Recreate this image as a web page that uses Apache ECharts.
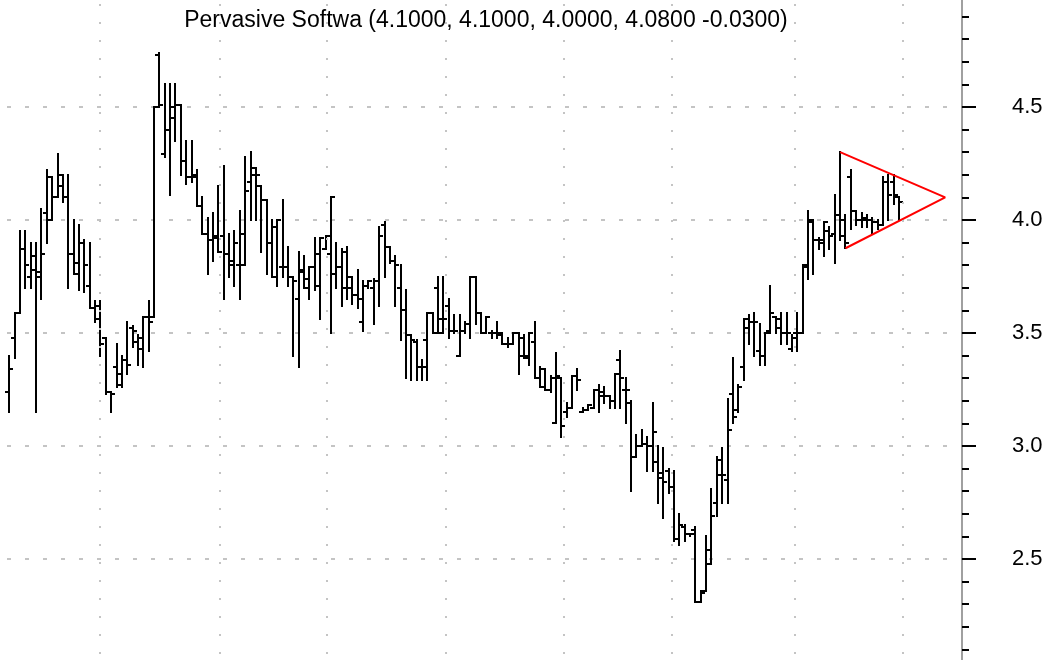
<!DOCTYPE html>
<html>
<head>
<meta charset="utf-8">
<title>Pervasive Softwa</title>
<script src="https://cdn.jsdelivr.net/npm/echarts@6/dist/echarts.min.js"></script>
<style>
  html, body { margin: 0; padding: 0; background: #fff; }
  #chart { width: 1061px; height: 660px; }
</style>
</head>
<body>
<div id="chart"></div>
<script>
const stockName = 'Pervasive Softwa'

// daily OHLC, oldest first
const opens = [
  3.24,3.48,3.59,3.87,3.75,3.78,3.77,4.03,4.00,4.10,
  4.20,4.10,3.85,3.76,3.90,3.71,3.61,3.56,3.48,3.24,
  3.35,3.32,3.38,3.52,3.46,3.43,3.57,3.57,4.73,4.29,
  4.40,4.50,4.51,4.26,4.19,4.19,4.06,3.94,3.91,3.92,
  3.93,3.85,3.82,3.80,3.94,4.17,4.23,4.15,4.09,3.90,
  3.75,3.79,3.79,3.75,3.65,3.77,3.70,3.79,3.85,3.87,
  3.85,3.76,3.79,3.70,3.70,3.67,3.55,3.71,3.70,3.73,
  3.98,3.88,3.82,3.70,3.60,3.49,3.46,3.35,3.47,3.59,
  3.70,3.56,3.62,3.51,3.40,3.51,3.54,3.75,3.59,3.50,
  3.50,3.50,3.49,3.45,3.45,3.50,3.48,3.39,3.46,3.30,
  3.26,3.25,3.10,3.30,3.15,3.17,3.31,3.15,3.16,
  3.17,3.25,3.22,3.22,3.20,3.38,3.25,3.19,2.95,3.00,
  3.01,3.00,2.93,2.88,2.89,2.82,2.59,2.64,2.61,
  2.63,2.31,2.36,2.54,2.75,2.94,2.85,3.23,3.16,3.35,
  3.56,3.55,3.42,3.40,3.51,3.57,3.56,3.50,3.43,3.50,
  3.50,3.79,3.99,3.91,3.90,3.95,3.94,4.02,3.93,
  4.19,4.04,4.00,4.00,4.00,3.99,3.98,4.17,4.17,4.10
]
const highs = [
  3.40,3.59,3.95,3.95,3.90,3.90,4.05,4.22,4.19,4.29,
  4.20,4.20,4.00,3.98,3.91,3.90,3.64,3.64,3.48,3.24,
  3.45,3.40,3.55,3.53,3.49,3.57,3.64,4.50,4.74,4.60,
  4.60,4.60,4.51,4.35,4.35,4.22,4.10,4.01,4.03,4.15,
  4.24,3.94,3.95,4.04,4.28,4.30,4.23,4.15,4.09,4.00,
  4.00,4.09,3.88,3.75,3.86,3.84,3.79,3.92,3.92,3.93,
  4.10,3.90,3.87,3.88,3.75,3.78,3.73,3.73,3.74,3.97,
  3.99,3.88,3.84,3.80,3.69,3.49,3.47,3.38,3.59,3.59,
  3.75,3.75,3.65,3.58,3.58,3.55,3.75,3.75,3.59,3.57,
  3.51,3.55,3.50,3.48,3.50,3.50,3.49,3.50,3.55,3.35,
  3.34,3.31,3.41,3.30,3.19,3.31,3.34,3.17,3.18,
  3.25,3.27,3.26,3.22,3.32,3.42,3.30,3.20,3.05,3.07,
  3.04,3.19,3.00,2.99,2.90,2.89,2.70,2.65,2.61,
  2.64,2.36,2.60,2.81,2.95,2.99,3.21,3.39,3.27,3.56,
  3.58,3.59,3.54,3.50,3.71,3.57,3.59,3.59,3.49,3.59,
  3.80,4.04,4.00,3.92,3.99,3.97,4.11,4.30,4.02,
  4.22,4.04,4.03,4.02,4.01,4.00,4.19,4.20,4.20,4.10
]
const lows = [
  3.15,3.39,3.59,3.70,3.70,3.15,3.65,3.90,4.00,4.10,
  4.08,3.70,3.76,3.69,3.68,3.61,3.55,3.40,3.23,3.15,
  3.26,3.26,3.32,3.44,3.36,3.35,3.42,3.57,4.50,4.28,
  4.11,4.35,4.20,4.16,4.17,4.06,3.94,3.76,3.82,3.86,
  3.65,3.75,3.71,3.65,3.80,4.00,4.00,3.86,3.76,3.75,
  3.71,3.75,3.71,3.40,3.35,3.70,3.65,3.69,3.56,3.87,
  3.50,3.70,3.62,3.65,3.63,3.61,3.51,3.70,3.54,3.62,
  3.75,3.81,3.62,3.47,3.30,3.29,3.29,3.29,3.29,3.50,
  3.50,3.50,3.48,3.50,3.40,3.50,3.48,3.54,3.50,3.50,
  3.48,3.48,3.45,3.44,3.45,3.32,3.39,3.36,3.30,3.26,
  3.25,3.24,3.10,3.04,3.13,3.17,3.25,3.15,3.16,
  3.17,3.15,3.19,3.17,3.17,3.17,3.10,2.80,2.95,3.00,
  2.89,2.89,2.75,2.68,2.79,2.58,2.56,2.58,2.60,
  2.31,2.31,2.36,2.48,2.69,2.75,2.75,3.10,3.15,3.29,
  3.45,3.40,3.36,3.36,3.50,3.50,3.45,3.45,3.42,3.42,
  3.50,3.74,3.76,3.87,3.84,3.87,3.81,3.91,3.875,
  3.96,3.98,3.97,3.97,3.94,3.96,3.98,4.00,4.07,4.00
]
const closes = [
  3.34,3.59,3.87,3.80,3.84,3.75,3.85,4.19,4.10,4.15,
  4.10,3.85,3.81,3.90,3.80,3.61,3.62,3.45,3.24,3.23,
  3.27,3.38,3.36,3.51,3.48,3.57,3.55,4.50,4.51,4.40,
  4.45,4.51,4.26,4.19,4.20,4.06,3.94,3.91,3.93,3.86,
  3.85,3.80,3.90,3.80,4.13,4.20,4.20,4.09,3.90,3.97,
  4.00,3.79,3.75,3.73,3.78,3.74,3.79,3.71,3.92,3.93,
  4.10,3.79,3.86,3.75,3.67,3.65,3.71,3.73,3.73,3.93,
  3.88,3.82,3.80,3.60,3.49,3.47,3.35,3.35,3.59,3.50,
  3.50,3.56,3.51,3.51,3.51,3.54,3.75,3.59,3.50,3.57,
  3.50,3.50,3.45,3.45,3.50,3.40,3.40,3.50,3.30,3.34,
  3.25,3.30,3.31,3.09,3.17,3.31,3.29,3.16,3.18,
  3.25,3.24,3.22,3.20,3.32,3.30,3.25,2.95,3.00,3.01,
  3.00,3.06,2.86,2.84,2.82,2.59,2.65,2.61,2.61,
  2.31,2.35,2.48,2.69,2.87,2.87,3.07,3.13,3.26,3.52,
  3.55,3.55,3.40,3.50,3.59,3.52,3.50,3.50,3.48,3.50,
  3.80,4.00,3.91,3.91,3.99,3.93,4.02,4.00,3.90,
  4.04,4.00,4.01,4.00,3.99,3.98,4.17,4.11,4.11,4.08
]

// month boundaries (bar index units) for the dotted verticals
const monthBreaks = [16.9, 39.3, 59.3, 81.5, 103.5, 123.6, 146.6, 166.7]

// price axis
const yMin = 2.0
const yMax = 5.0
const yStep = 0.5

// triangle drawn from the high of one bar and the low of the next to an apex
const triangleTop = 155
const triangleBottom = 156
const triangleApex = [174.6, 4.10]

const last = opens.length - 1
const change = closes[last] - closes[last - 1]
const titleText = `${stockName} (${opens[last].toFixed(4)}, ${highs[last].toFixed(4)}, ${lows[last].toFixed(4)}, ${closes[last].toFixed(4)} ${change.toFixed(4)})`

const barData = opens.map((o, i) => [i, o, highs[i], lows[i], closes[i]])

// OHLC bar: vertical high-low, open tick left, close tick right
const renderBar = (params, api) => {
  const i = api.value(0)
  const x = Math.round(api.coord([i, 0])[0])
  const yo = Math.round(api.coord([i, api.value(1)])[1])
  const yh = Math.round(api.coord([i, api.value(2)])[1])
  const yl = Math.round(api.coord([i, api.value(3)])[1])
  const yc = Math.round(api.coord([i, api.value(4)])[1])
  const style = { stroke: '#000', lineWidth: 2 }
  return {
    type: 'group',
    children: [
      { type: 'line', shape: { x1: x, y1: yh - 1, x2: x, y2: yl + 1 }, style },
      { type: 'line', shape: { x1: x - 4, y1: yo, x2: x, y2: yo }, style },
      { type: 'line', shape: { x1: x, y1: yc, x2: x + 4, y2: yc }, style }
    ]
  }
}

const chart = echarts.init(document.getElementById('chart'), null, { renderer: 'canvas' })

const option = {
  animation: false,
  backgroundColor: '#fff',
  title: {
    text: titleText,
    left: 481,
    top: 4,
    textAlign: 'center',
    textStyle: { fontFamily: 'Liberation Sans', fontSize: 23, fontWeight: 'normal', color: '#000' }
  },
  grid: { left: 0, right: 99, top: -6, height: 678, outerBoundsMode: 'none', containLabel: false },
  xAxis: {
    type: 'value',
    min: -1.735,
    max: 177.74,
    show: false,
    splitLine: { show: false }
  },
  yAxis: {
    type: 'value',
    position: 'right',
    min: yMin,
    max: yMax,
    interval: yStep,
    axisLine: { show: true, onZero: false, lineStyle: { color: '#808080', width: 1.5 } },
    axisTick: { show: true, length: 14, lineStyle: { color: '#000', width: 2 } },
    minorTick: { show: true, splitNumber: 5, length: 7, lineStyle: { color: '#000', width: 2 } },
    axisLabel: {
      margin: 50,
      fontFamily: 'Liberation Sans',
      fontSize: 22,
      color: '#000',
      showMinLabel: false,
      showMaxLabel: false,
      formatter: v => v.toFixed(1)
    },
    splitLine: { show: true, lineStyle: { color: '#c4c4c4', width: 2, type: [4, 14], dashOffset: 11 } }
  },
  series: [
    {
      // vertical month grid
      type: 'line',
      data: [],
      z: 1,
      markLine: {
        silent: true,
        symbol: ['none', 'none'],
        label: { show: false },
        lineStyle: { color: '#c4c4c4', width: 2, type: [2, 16] },
        data: monthBreaks.map(v => ({ xAxis: v }))
      }
    },
    {
      type: 'custom',
      z: 2,
      renderItem: renderBar,
      encode: { x: 0, y: [1, 2, 3, 4] },
      data: barData
    },
    {
      type: 'line',
      z: 3,
      showSymbol: false,
      lineStyle: { color: '#ff0000', width: 2 },
      data: [
        [triangleTop, highs[triangleTop]],
        triangleApex,
        [triangleBottom, lows[triangleBottom]]
      ]
    }
  ]
}

chart.setOption(option)
window.addEventListener('resize', () => chart.resize())
</script>
</body>
</html>
